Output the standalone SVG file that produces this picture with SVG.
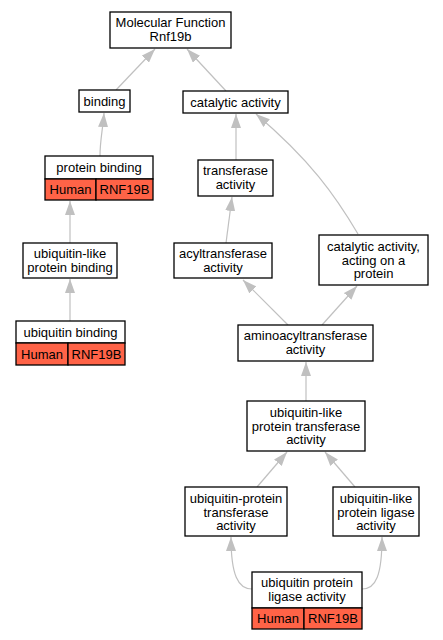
<svg xmlns="http://www.w3.org/2000/svg" width="443" height="640" viewBox="0 0 443 640">
<style>
.n{fill:#fff;stroke:#000;stroke-width:1.3}
.h{fill:#ff6347;stroke:#000;stroke-width:1.3}
text{font-family:"Liberation Sans",Arial,sans-serif;font-size:13px;text-anchor:middle;fill:#000}
.e{fill:none;stroke:#c0c0c0;stroke-width:1.2;marker-end:url(#a)}
</style>
<defs>
<marker id="a" markerUnits="userSpaceOnUse" markerWidth="14" markerHeight="10" refX="14" refY="5" orient="auto" viewBox="0 0 14 10">
<path d="M0,0 L14,5 L0,10 z" fill="#c0c0c0"/>
</marker>
</defs>
<rect width="443" height="640" fill="#fff"/>
<g id="edges">
<path class="e" d="M116,90 L155,49"/>
<path class="e" d="M226,91 L187,49"/>
<path class="e" d="M100,156 C100,140 103,128 104,113"/>
<path class="e" d="M70,243 L70,201"/>
<path class="e" d="M70,321 L70,279"/>
<path class="e" d="M236,160 L236,114"/>
<path class="e" d="M358,234 C335,195 310,160 256,114"/>
<path class="e" d="M226,243 L232,197"/>
<path class="e" d="M288,325 L243,280"/>
<path class="e" d="M322,325 L357,286"/>
<path class="e" d="M306,401 L306,362"/>
<path class="e" d="M257,487 L287,452"/>
<path class="e" d="M355,487 L325,452"/>
<path class="e" d="M252,589 C238,589 231,575 231,537"/>
<path class="e" d="M362,589 C376,589 382,575 382,537"/>
</g>
<g id="mf"><rect class="n" x="110" y="12" width="121" height="36"/><text x="170.5" y="27">Molecular Function</text><text x="170.5" y="40.5">Rnf19b</text></g>
<g id="binding"><rect class="n" x="79" y="90" width="51" height="22"/><text x="104.5" y="105.5">binding</text></g>
<g id="catalytic"><rect class="n" x="183" y="91" width="105" height="22"/><text x="235.5" y="106.5">catalytic activity</text></g>
<g id="proteinbinding"><rect class="n" x="45" y="156" width="108" height="23"/><text x="99" y="171.5">protein binding</text><rect class="h" x="45" y="179" width="51" height="21"/><rect class="h" x="96" y="179" width="57" height="21"/><text x="70.5" y="194">Human</text><text x="124.5" y="194">RNF19B</text></g>
<g id="ublbinding"><rect class="n" x="23" y="243" width="94" height="35"/><text x="70" y="258">ubiquitin-like</text><text x="70" y="271.5">protein binding</text></g>
<g id="ubbinding"><rect class="n" x="16" y="321" width="109" height="22"/><text x="70.5" y="336.5">ubiquitin binding</text><rect class="h" x="16" y="343" width="52" height="22"/><rect class="h" x="68" y="343" width="57" height="22"/><text x="42" y="358.5">Human</text><text x="96.5" y="358.5">RNF19B</text></g>
<g id="transferase"><rect class="n" x="198" y="160" width="75" height="36"/><text x="235.5" y="175">transferase</text><text x="235.5" y="188.5">activity</text></g>
<g id="acyl"><rect class="n" x="174" y="243" width="98" height="35"/><text x="223" y="258">acyltransferase</text><text x="223" y="271.5">activity</text></g>
<g id="catprot"><rect class="n" x="319" y="235" width="109" height="50"/><text x="373.5" y="251">catalytic activity,</text><text x="373.5" y="264.5">acting on a</text><text x="373.5" y="278">protein</text></g>
<g id="amino"><rect class="n" x="238" y="325" width="135" height="36"/><text x="305.5" y="340">aminoacyltransferase</text><text x="305.5" y="353.5">activity</text></g>
<g id="ubltrans"><rect class="n" x="247" y="401" width="118" height="50"/><text x="306" y="417">ubiquitin-like</text><text x="306" y="430.5">protein transferase</text><text x="306" y="444">activity</text></g>
<g id="ubprottrans"><rect class="n" x="185" y="487" width="102" height="49"/><text x="236" y="503">ubiquitin-protein</text><text x="236" y="516.5">transferase</text><text x="236" y="530">activity</text></g>
<g id="ublligase"><rect class="n" x="333" y="487" width="86" height="49"/><text x="376" y="503">ubiquitin-like</text><text x="376" y="516.5">protein ligase</text><text x="376" y="530">activity</text></g>
<g id="ubligase"><rect class="n" x="252" y="572" width="110" height="36"/><text x="307" y="587">ubiquitin protein</text><text x="307" y="600.5">ligase activity</text><rect class="h" x="252" y="608" width="52" height="21"/><rect class="h" x="304" y="608" width="58" height="21"/><text x="278" y="623">Human</text><text x="333" y="623">RNF19B</text></g>
</svg>
